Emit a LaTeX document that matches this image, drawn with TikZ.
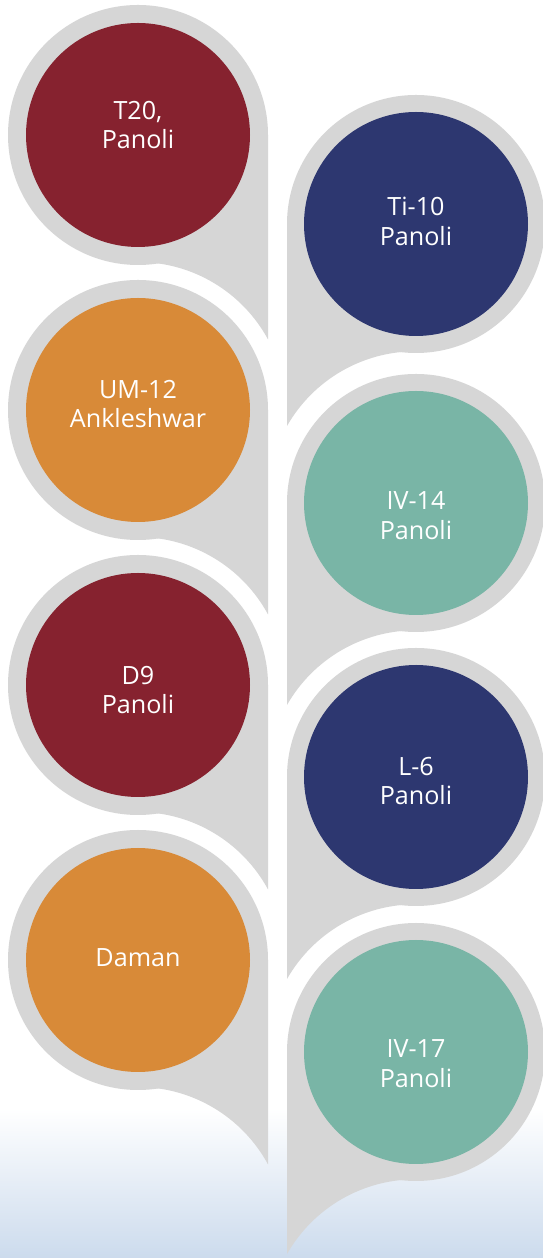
\documentclass[tikz,border=0pt]{standalone}
\usepackage{fontspec}
\setmainfont{Open Sans}
\usetikzlibrary{calc}

\definecolor{wine}{HTML}{86222F}
\definecolor{amber}{HTML}{D88A38}
\definecolor{navy}{HTML}{2D3770}
\definecolor{sage}{HTML}{79B5A6}
\definecolor{halo}{HTML}{D6D6D6}
\definecolor{skyfog}{HTML}{CCDBED}

\begin{document}
\begin{tikzpicture}[
  x=0.02cm, y=0.02cm,
  site/.style = {inner sep=0pt, text=white, align=center,
                 font=\fontsize{14.3}{17}\selectfont},
  halofill/.style = {fill=halo},
]

%% ------------------------------------------------------------------ BACKGROUND
\fill[white] (0,0) rectangle (543,1258);
\shade[top color=white, bottom color=skyfog] (0,0) rectangle (543,150);
\useasboundingbox (0,0) rectangle (543,1258);

%% ------------------------------------------------------------------ LEFT COLUMN
% halo + tail pointing down on the right side
\foreach \y in {1123,848,573,298}
{
  \fill[halofill] (138,\y) circle[radius=130];
  \fill[halofill] (138,\y) -- (268,\y) -- (268,\y-204.4)
        arc[start angle=28.5, end angle=90, radius=148] -- cycle;
}
\foreach \n/\y/\dy/\c/\t in {t20/1123/10/wine/{T20,\\Panoli},
                             um12/848/6/amber/{UM-12\\Ankleshwar},
                             d9/573/-5/wine/{D9\\Panoli},
                             daman/298/2/amber/{Daman}}
{
  \fill[\c] (138,\y) circle[radius=112];
  \node[site] (\n) at (138,\y+\dy) {\t};
}

%% ------------------------------------------------------------------ RIGHT COLUMN
% halo + tail pointing down on the left side
\foreach \y in {1034,755,481,206}
{
  \fill[halofill] (416,\y) circle[radius=129];
  \fill[halofill] (416,\y) -- (287,\y) -- (287,\y-202)
        arc[start angle=150.3, end angle=90, radius=148] -- cycle;
}
\foreach \n/\y/\dy/\c/\t in {ti10/1034/3/navy/{Ti-10\\Panoli},
                             iv14/755/-13/sage/{IV-14\\Panoli},
                             l6/481/-4/navy/{L-6\\Panoli},
                             iv17/206/-12/sage/{IV-17\\Panoli}}
{
  \fill[\c] (416,\y) circle[radius=112];
  \node[site] (\n) at (416,\y+\dy) {\t};
}

\end{tikzpicture}
\end{document}
